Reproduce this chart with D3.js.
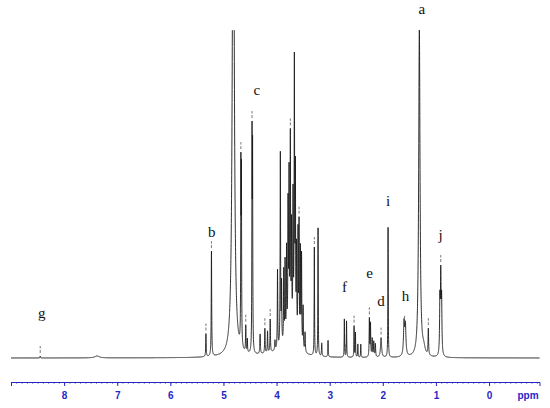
<!DOCTYPE html>
<html>
<head>
<meta charset="utf-8">
<script src="https://cdn.jsdelivr.net/npm/d3@7"></script>
<style>
  body { margin: 0; background: #fff; }
  .peak-label { font-family: "Liberation Serif", "DejaVu Serif", serif; font-size: 15px; fill: #111; }
  .axis text { font-family: "Liberation Sans", Arial, sans-serif; font-weight: bold; font-size: 10px; }
</style>
</head>
<body>
<div id="chart"></div>
<script>
// peak list: shift (ppm), intensity (0-100 = full height), half width (ppm)
const peakPpm    = [8.45, 7.38, 5.33, 5.226, 4.815, 4.672, 4.662, 4.58, 4.55, 4.462, 4.452, 4.31, 4.22, 4.17, 4.12, 4.03,
                    3.982, 3.929, 3.906, 3.865, 3.840, 3.812, 3.784, 3.765, 3.741, 3.718, 3.690, 3.665, 3.646, 3.624,
                    3.596, 3.577, 3.552, 3.530, 3.501, 3.464, 3.289, 3.219, 3.15, 3.031, 2.724, 2.683, 2.541, 2.515,
                    2.47, 2.415, 2.253, 2.232, 2.20, 2.17, 2.14, 2.033, 1.901, 1.60, 1.575, 1.312, 1.23, 1.143,
                    0.925, 0.909, 0.893, 4.0, 3.73];
const peakHeight = [0.6, 0.6, 7, 32, 180, 52, 50, 8, 4, 63, 58, 6, 7.5, 6.5, 10, 3,
                    24, 59, 18, 22, 24, 27, 39, 47, 58, 31, 41, 82, 49, 27,
                    33, 36, 29, 28, 13, 6, 33, 39, 4, 5, 11.6, 11, 9.5, 7.5,
                    4, 4, 11.6, 10, 5.5, 4.6, 4, 6, 39.6, 10, 9, 100, 2, 8,
                    16, 23, 16, 1.2, 6];
const peakWidth  = [0.004, 0.05, 0.005, 0.005, 0.02, 0.004, 0.004, 0.005, 0.004, 0.004, 0.004, 0.006, 0.005, 0.005, 0.005, 0.006,
                    0.005, 0.005, 0.005, 0.005, 0.005, 0.005, 0.005, 0.005, 0.005, 0.005, 0.005, 0.005, 0.005, 0.005,
                    0.005, 0.005, 0.005, 0.005, 0.005, 0.006, 0.004, 0.004, 0.005, 0.004, 0.004, 0.004, 0.004, 0.004,
                    0.004, 0.004, 0.005, 0.005, 0.006, 0.006, 0.006, 0.012, 0.004, 0.012, 0.012, 0.015, 0.03, 0.006,
                    0.007, 0.007, 0.007, 0.35, 0.1];

// peak picking marks
const markPpm = [8.45, 5.33, 5.226, 4.672, 4.58, 4.462, 4.22, 4.12, 3.741, 3.577, 3.289, 2.704, 2.541, 2.253, 2.033, 1.59, 1.143, 0.909];

// assignment letters
const labelText  = ['a', 'b', 'c', 'd', 'e', 'f', 'g', 'h', 'i', 'j'];
const labelPpm   = [1.267, 5.220, 4.373, 2.033, 2.250, 2.720, 8.421, 1.572, 1.901, 0.913];
const labelLevel = [106.1, 38.4, 81.7, 17.1, 25.9, 21.6, 13.7, 18.9, 47.6, 37.5];

const majorTicks = [8, 7, 6, 5, 4, 3, 2, 1, 0];

class nmrSpectrum {

  constructor(_config) {
    this.config = {
      parentElement: _config.parentElement,
      containerWidth: _config.containerWidth || 550,
      containerHeight: _config.containerHeight || 408,
      plotLeft: 11,
      plotRight: 539.5,
      baseline: 358,
      top: 30,
      axisY: 382
    }
    this.initVis();
  }

  initVis() {
    let vis = this;

    vis.svg = d3.select(vis.config.parentElement).append('svg')
      .attr('width', vis.config.containerWidth)
      .attr('height', vis.config.containerHeight);

    // ppm runs right to left
    vis.x = d3.scaleLinear()
      .domain([9, -0.95])
      .range([vis.config.plotLeft, vis.config.plotRight]);

    vis.y = d3.scaleLinear()
      .domain([0, 100])
      .range([vis.config.baseline, vis.config.top]);

    vis.svg.append('clipPath').attr('id', 'clip')
      .append('rect')
      .attr('x', 0).attr('y', vis.config.top)
      .attr('width', vis.config.containerWidth)
      .attr('height', vis.config.baseline - vis.config.top + 10);

    vis.renderVis();
  }

  intensity(p) {
    let s = 0;
    for (let i = 0; i < peakPpm.length; i++) {
      const d = p - peakPpm[i], w = peakWidth[i];
      s += peakHeight[i] * w * w / (d * d + w * w);
    }
    return s;
  }

  renderVis() {
    let vis = this;

    // sample grid plus the exact peak centres so the tops are not missed
    let grid = d3.range(-950, 9001).map(d => d / 1000).concat(peakPpm);
    grid.sort((a, b) => b - a);
    const spectrum = grid.map(p => ({ppm: p, v: vis.intensity(p)}));

    const line = d3.line()
      .x(d => vis.x(d.ppm))
      .y(d => vis.y(d.v));

    vis.svg.append('path')
      .datum(spectrum)
      .attr('clip-path', 'url(#clip)')
      .attr('fill', 'none')
      .attr('stroke', '#1a1a1a')
      .attr('stroke-width', 0.9)
      .attr('d', line);

    // small dashed marks above picked peaks
    vis.svg.selectAll('.mark')
      .data(markPpm)
      .join('line')
      .attr('class', 'mark')
      .attr('x1', d => vis.x(d)).attr('x2', d => vis.x(d))
      .attr('y1', d => vis.y(vis.intensity(d)) - 3)
      .attr('y2', d => vis.y(vis.intensity(d)) - 10)
      .attr('stroke', '#555')
      .attr('stroke-width', 0.8)
      .attr('stroke-dasharray', '3,1.5');

    vis.svg.selectAll('.peak-label')
      .data(labelText)
      .join('text')
      .attr('class', 'peak-label')
      .attr('x', (d, i) => vis.x(labelPpm[i]))
      .attr('y', (d, i) => vis.y(labelLevel[i]) + 4.5)
      .attr('text-anchor', 'middle')
      .text(d => d);

    // ppm axis, blue
    const axisColor = '#2626c8';
    vis.svg.append('g')
      .attr('transform', `translate(0, ${vis.config.axisY})`)
      .attr('color', axisColor)
      .call(d3.axisBottom(vis.x)
        .tickValues(d3.range(-9, 91).map(d => d / 10))
        .tickSize(1.5)
        .tickSizeOuter(4)
        .tickFormat(''));

    const major = vis.svg.append('g')
      .attr('class', 'axis')
      .attr('transform', `translate(0, ${vis.config.axisY})`)
      .attr('color', axisColor)
      .call(d3.axisBottom(vis.x)
        .tickValues(majorTicks)
        .tickSize(4)
        .tickSizeOuter(4)
        .tickPadding(6)
        .tickFormat(d3.format('d')));
    major.select('.domain').remove();

    vis.svg.append('text')
      .attr('class', 'axis')
      .attr('x', 528)
      .attr('y', 398.5)
      .attr('text-anchor', 'middle')
      .attr('fill', axisColor)
      .style('font-family', '"Liberation Sans", Arial, sans-serif')
      .style('font-weight', 'bold')
      .style('font-size', '10px')
      .text('ppm');
  }
}

new nmrSpectrum({parentElement: '#chart'});
</script>
</body>
</html>
